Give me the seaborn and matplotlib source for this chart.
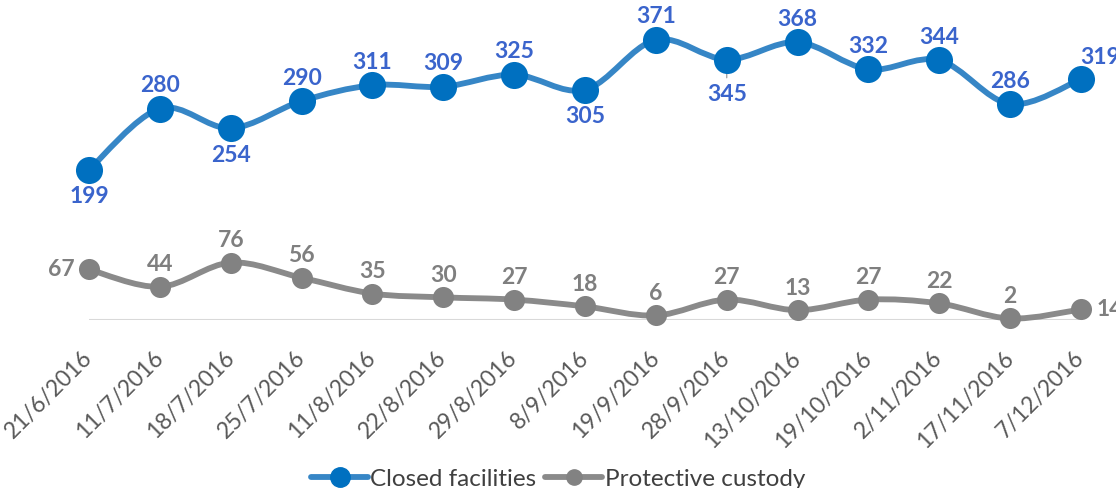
import numpy as np
import pandas as pd
import matplotlib.pyplot as plt
import seaborn as sns
from matplotlib.path import Path
from matplotlib.patches import PathPatch
from matplotlib.lines import Line2D

# Data
dates = ['21/6/2016', '11/7/2016', '18/7/2016', '25/7/2016', '11/8/2016',
         '22/8/2016', '29/8/2016', '8/9/2016', '19/9/2016', '28/9/2016',
         '13/10/2016', '19/10/2016', '2/11/2016', '17/11/2016', '7/12/2016']
closed = [199, 280, 254, 290, 311, 309, 325, 305, 371, 345, 368, 332, 344, 286, 319]
custody = [67, 44, 76, 56, 35, 30, 27, 18, 6, 27, 13, 27, 22, 2, 14]

# label placement per point
closed_pos = ['below', 'above', 'below', 'above', 'above', 'above', 'above', 'below',
              'above', 'below', 'above', 'above', 'above', 'above', 'aboveright']
custody_pos = ['left'] + ['above'] * 13 + ['right']

sns.set_style('white')
plt.rcParams['font.family'] = ['Lato', 'DejaVu Sans']

BLUE_LINE = '#3686C6'
BLUE_MARK = '#0070C0'
BLUE_TEXT = '#3A64CC'
GRAY_LINE = '#8A8A8A'
GRAY_MARK = '#828282'
GRAY_TEXT = '#7F7F7F'

df = pd.DataFrame({'idx': np.arange(len(dates)), 'date': dates,
                   'Closed facilities': closed, 'Protective custody': custody})

fig = plt.figure(figsize=(11.16, 4.88), dpi=100)
ax = fig.add_axes([89 / 1116, 168 / 488, 992 / 1116, 302 / 488])
ax.set_xlim(0, len(dates) - 1)
ax.set_ylim(0, 400)


def smooth_path(xs, ys):
    # Excel-style smoothed line: cubic Bezier through the points
    pts = np.column_stack([xs, ys]).astype(float)
    n = len(pts)
    verts = [pts[0]]
    codes = [Path.MOVETO]
    for i in range(n - 1):
        p0 = pts[i - 1] if i > 0 else pts[i]
        p1, p2 = pts[i], pts[i + 1]
        p3 = pts[i + 2] if i + 2 < n else pts[i + 1]
        c1 = p1 + (p2 - p0) / 6.0
        c2 = p2 - (p3 - p1) / 6.0
        verts += [c1, c2, p2]
        codes += [Path.CURVE4] * 3
    return Path(verts, codes)


ax.axhline(0, color='#D9D9D9', lw=1.5, zorder=1)

for col, lc, mc, size in [('Closed facilities', BLUE_LINE, BLUE_MARK, 380),
                          ('Protective custody', GRAY_LINE, GRAY_MARK, 230)]:
    ax.add_patch(PathPatch(smooth_path(df['idx'], df[col]), facecolor='none',
                           edgecolor=lc, lw=4.2, capstyle='round', zorder=2,
                           clip_on=False))
    sns.scatterplot(data=df, x='idx', y=col, ax=ax, color=mc, s=size,
                    edgecolor=mc, linewidth=0, zorder=3, clip_on=False)

px = 0.72  # points per pixel
offsets = {'above': (0, 23), 'below': (0, -27), 'left': (-28, 0), 'right': (29, 0),
           'aboveright': (19, 22)}

for i, (v, pos) in enumerate(zip(closed, closed_pos)):
    dx, dy = offsets[pos]
    if i == 9:
        dy = -35
        ax.annotate('', xy=(i, v), xytext=(0, -21 * px), textcoords='offset points',
                    arrowprops=dict(arrowstyle='-', color='#A6A6A6', lw=1), zorder=2)
    ax.annotate(str(v), (i, v), xytext=(dx * px, dy * px), textcoords='offset points',
                ha='center', va='center', fontsize=16.5, fontweight='bold',
                color=BLUE_TEXT, annotation_clip=False, zorder=4)

for i, (v, pos) in enumerate(zip(custody, custody_pos)):
    dx, dy = offsets[pos]
    if pos == 'above':
        dy = 22
    ax.annotate(str(v), (i, v), xytext=(dx * px, dy * px), textcoords='offset points',
                ha='center', va='center', fontsize=16.5, fontweight='bold',
                color=GRAY_TEXT, annotation_clip=False, zorder=4)

ax.set_xticks(df['idx'])
ax.set_xticklabels(dates, rotation=45, ha='right', va='center',
                   rotation_mode='anchor', fontsize=16.5, color='#595959')
ax.tick_params(axis='x', length=0, pad=25)
ax.set_yticks([])
ax.set_xlabel('')
ax.set_ylabel('')
for s in ax.spines.values():
    s.set_visible(False)

handles = [Line2D([], [], color=BLUE_LINE, lw=4.2, marker='o', markersize=14,
                  markerfacecolor=BLUE_MARK, markeredgecolor=BLUE_MARK),
           Line2D([], [], color=GRAY_LINE, lw=4.2, marker='o', markersize=11,
                  markerfacecolor=GRAY_MARK, markeredgecolor=GRAY_MARK)]
fig.legend(handles, ['Closed facilities', 'Protective custody'], loc='center',
           bbox_to_anchor=(0.5, 9 / 488), ncol=2, frameon=False, fontsize=17.5,
           handlelength=2.35, handletextpad=0.1, columnspacing=0.35,
           labelcolor='#404040')

fig.savefig('out.png', dpi=100)
